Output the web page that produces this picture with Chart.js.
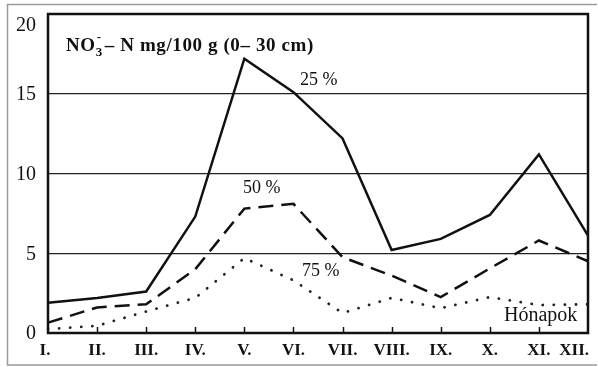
<!DOCTYPE html>
<html>
<head>
<meta charset="utf-8">
<script src="https://cdn.jsdelivr.net/npm/chart.js@4.4.1/dist/chart.umd.min.js"></script>
<style>
	html, body { margin: 0; padding: 0; background: #fff; }
	#wrap { width: 598px; height: 367px; position: relative; }
</style>
</head>
<body>
<div id="wrap"><canvas id="chart" width="598" height="367"></canvas></div>
<script>
const months = ['I.', 'II.', 'III.', 'IV.', 'V.', 'VI.', 'VII.', 'VIII.', 'IX.', 'X.', 'XI.', 'XII.'];
const yTicks = [0, 5, 10, 15, 20];
const series25 = [1.9, 2.2, 2.6, 7.3, 17.2, 15.1, 12.2, 5.2, 5.9, 7.4, 11.2, 6.1];
const series50 = [0.65, 1.6, 1.8, 4.0, 7.8, 8.1, 4.75, 3.6, 2.25, 4.05, 5.8, 4.5];
const series75 = [0.25, 0.45, 1.35, 2.2, 4.7, 3.3, 1.25, 2.2, 1.55, 2.25, 1.75, 1.8];
const lineLabels = [
	{ text: '25 %', x: 300, y: 80 },
	{ text: '50 %', x: 243, y: 188 },
	{ text: '75 %', x: 302, y: 271 },
];

const serif = '"Liberation Serif", "DejaVu Serif", serif';

const decorations = {
	id: 'decorations',
	beforeDraw(chart) {
		const ctx = chart.ctx;
		ctx.save();
		ctx.fillStyle = '#fff';
		ctx.fillRect(0, 0, chart.width, chart.height);
		// outer frame of the scanned figure
		ctx.strokeStyle = '#9a9a9a';
		ctx.lineWidth = 1.5;
		ctx.beginPath();
		ctx.moveTo(597, 4.5);
		ctx.lineTo(7.5, 4.5);
		ctx.lineTo(7.5, 365);
		ctx.lineTo(597, 365);
		ctx.stroke();
		ctx.restore();
	},
	afterDatasetsDraw(chart) {
		const ctx = chart.ctx;
		const area = chart.chartArea;
		const x = chart.scales.x;
		const y = chart.scales.y;
		ctx.save();

		// inward tick marks on the month axis
		ctx.strokeStyle = '#111';
		ctx.lineWidth = 1.5;
		months.forEach((m, i) => {
			if (i === 0 || i === months.length - 1) return;
			const px = Math.round(x.getPixelForValue(i)) + 0.5;
			ctx.beginPath();
			ctx.moveTo(px, area.bottom);
			ctx.lineTo(px, area.bottom - 6);
			ctx.stroke();
		});

		// plot frame
		ctx.lineWidth = 2.5;
		ctx.strokeStyle = '#111';
		ctx.strokeRect(area.left, area.top, area.right - area.left, area.bottom - area.top);

		ctx.fillStyle = '#111';

		// month labels (first centred, last kept inside the frame)
		ctx.font = `bold 17px ${serif}`;
		ctx.textBaseline = 'middle';
		months.forEach((m, i) => {
			const px = x.getPixelForValue(i);
			if (i === months.length - 1) {
				ctx.textAlign = 'right';
				ctx.fillText(m, px + 1, 351);
			} else {
				ctx.textAlign = 'center';
				ctx.fillText(m, px - (i === 0 ? 3 : 0), 351);
			}
		});

		// value labels
		ctx.font = `20px ${serif}`;
		ctx.textAlign = 'right';
		yTicks.forEach((v) => {
			const py = Math.max(y.getPixelForValue(v), area.top + 11);
			ctx.fillText(String(v), 36, py + 1);
		});

		// title with sub/superscript
		ctx.textAlign = 'left';
		ctx.textBaseline = 'alphabetic';
		ctx.letterSpacing = '0.6px';
		ctx.font = `bold 19px ${serif}`;
		let tx = 66;
		const ty = 51;
		ctx.fillText('NO', tx, ty);
		tx += ctx.measureText('NO').width;
		ctx.font = `bold 13px ${serif}`;
		ctx.fillText('3', tx, ty + 5);
		ctx.fillText('-', tx + 1, ty - 10);
		tx += ctx.measureText('3').width + 2;
		ctx.font = `bold 19px ${serif}`;
		ctx.fillText('– N mg/100 g (0– 30 cm)', tx, ty);
		ctx.letterSpacing = '0px';

		// series labels
		ctx.textBaseline = 'middle';
		ctx.font = `18px ${serif}`;
		lineLabels.forEach((l) => {
			ctx.fillText(l.text, l.x, l.y);
		});

		ctx.font = `20px ${serif}`;
		ctx.fillText('Hónapok', 504, 316);
		ctx.restore();
	},
};

new Chart(document.getElementById('chart'), {
	type: 'line',
	data: {
		labels: months,
		datasets: [
			{
				label: '25 %',
				data: series25,
				borderColor: '#111',
				borderWidth: 2.5,
				pointRadius: 0,
				tension: 0,
			},
			{
				label: '50 %',
				data: series50,
				borderColor: '#111',
				borderWidth: 2.5,
				borderDash: [15, 8],
				pointRadius: 0,
				tension: 0,
			},
			{
				label: '75 %',
				data: series75,
				borderColor: '#222',
				borderWidth: 2.8,
				borderDash: [0.1, 11],
				borderCapStyle: 'round',
				pointRadius: 0,
				tension: 0,
			},
		],
	},
	options: {
		responsive: false,
		animation: false,
		layout: { padding: { left: 0, right: 10, top: 14, bottom: 0 } },
		plugins: {
			legend: { display: false },
			tooltip: { enabled: false },
		},
		scales: {
			x: {
				offset: false,
				grid: { display: false },
				border: { display: false },
				ticks: { display: false },
				afterFit(scale) {
					scale.height = 34;
					scale.paddingLeft = 0;
					scale.paddingRight = 0;
				},
			},
			y: {
				min: 0,
				max: 20,
				afterBuildTicks(scale) {
					scale.ticks = yTicks.map((v) => ({ value: v }));
				},
				grid: {
					color: (c) => (c.tick.value === 0 || c.tick.value === 20 ? 'rgba(0,0,0,0)' : '#222'),
					lineWidth: 1.2,
					drawTicks: false,
				},
				border: { display: false },
				ticks: { display: false },
				afterFit(scale) {
					scale.width = 48;
					scale.paddingTop = 0;
					scale.paddingBottom = 0;
				},
			},
		},
	},
	plugins: [decorations],
});
</script>
</body>
</html>
